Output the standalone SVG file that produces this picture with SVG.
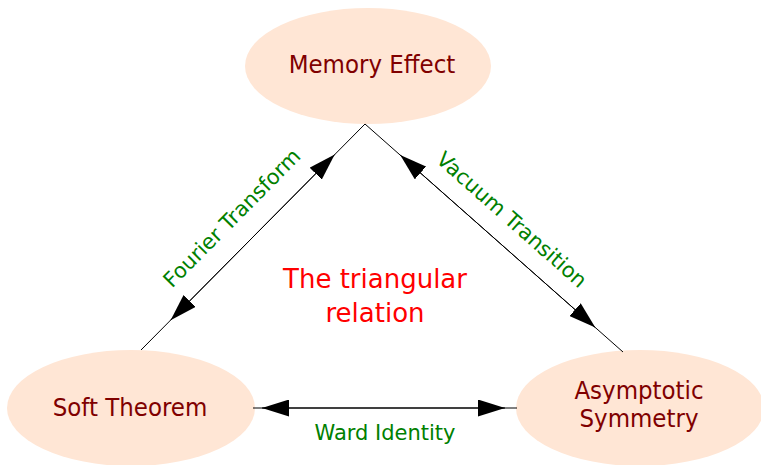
<svg xmlns="http://www.w3.org/2000/svg" width="761" height="465" viewBox="0 0 761 465">
<style>
.node ellipse{fill:#FFE6D5;stroke:none}
.node text{font-family:"DejaVu Sans Condensed","DejaVu Sans",sans-serif;font-stretch:condensed;font-size:25.5px;fill:#800000;text-anchor:middle}
.edge{stroke:#000;stroke-width:1;fill:none}
.lbl{font-family:"DejaVu Sans",sans-serif;font-size:21px;fill:#008000;text-anchor:middle}
.title{font-family:"DejaVu Sans",sans-serif;font-size:26px;fill:#FF0000;text-anchor:middle}
</style>
<defs>
<marker id="arr" viewBox="0 0 27 17" refX="27" refY="8.5" markerWidth="27" markerHeight="17" markerUnits="userSpaceOnUse" orient="auto-start-reverse">
<path d="M0,0 L27,8.5 L0,17 Z" fill="#000"/>
</marker>
</defs>
<rect width="761" height="465" fill="#fff"/>
<g id="memory-effect" class="node">
<ellipse cx="368" cy="66" rx="123" ry="58"/>
<text x="372" y="73">Memory Effect</text>
</g>
<g id="soft-theorem" class="node">
<ellipse cx="131" cy="408" rx="124" ry="58"/>
<text x="130" y="416">Soft Theorem</text>
</g>
<g id="asymptotic-symmetry" class="node">
<ellipse cx="640" cy="408" rx="124" ry="58"/>
<text x="639" y="399">Asymptotic</text>
<text x="639" y="427">Symmetry</text>
</g>
<g id="connectors">
<path class="edge" d="M141,350 L365,124"/>
<path class="edge" d="M170.6,320.2 L334.7,154.5" marker-start="url(#arr)" marker-end="url(#arr)"/>
<path class="edge" d="M365,124 L623,352"/>
<path class="edge" d="M400.2,155.1 L595.3,327.5" marker-start="url(#arr)" marker-end="url(#arr)"/>
<path class="edge" d="M253,408 L517,408"/>
<path class="edge" d="M262,408 L505,408" marker-start="url(#arr)" marker-end="url(#arr)"/>
<text class="lbl" transform="translate(237,223) rotate(-45.3)">Fourier Transform</text>
<text class="lbl" transform="translate(507,225) rotate(41.5)">Vacuum Transition</text>
<text class="lbl" x="385" y="440">Ward Identity</text>
</g>
<g id="caption">
<text class="title" x="375" y="288">The triangular</text>
<text class="title" x="375" y="322">relation</text>
</g>
</svg>
